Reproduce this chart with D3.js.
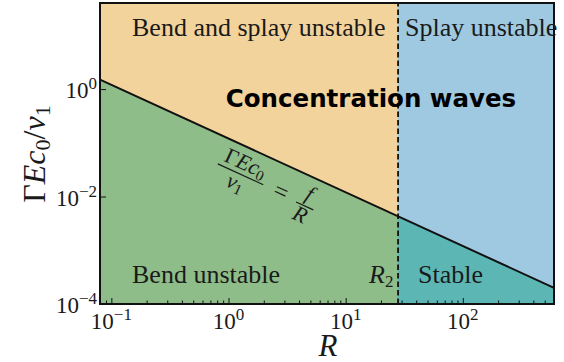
<!DOCTYPE html>
<html>
<head>
<meta charset="utf-8">
<script src="https://cdn.jsdelivr.net/npm/d3@7"></script>
<style>
  html, body { margin: 0; padding: 0; background: #fff; }
  svg { display: block; }
  .serif { font-family: "Liberation Serif", "DejaVu Serif", serif; fill: #1a1a1a; }
</style>
</head>
<body>
<svg id="chart" width="564" height="362"></svg>
<script>
// Stability diagram: threshold line  ΓEc0/v1 = f/R  and critical radius R2
const xDomain = [0.08, 600];        // R
const yDomain = [1e-4, 40];         // ΓEc0/v1
const fCoef = 0.12;                 // f in ΓEc0/v1 = f/R
const R2 = 28;                      // splay threshold radius
const xMajorTicks = [0.1, 1, 10, 100];
const xTickExp = ["−1", "0", "1", "2"];
const yMajorTicks = [1, 1e-2, 1e-4];
const yTickExp = ["0", "−2", "−4"];

const regionNames = ["Bend and splay unstable", "Splay unstable", "Bend unstable", "Stable"];
const regionColors = ["#f3d39c", "#9ec9e1", "#8fbd89", "#5cb7b4"];

const svg = d3.select("#chart");
const margin = { left: 100, right: 10, top: 3, bottom: 58 };
const W = 564, H = 362;

const x = d3.scaleLog().domain(xDomain).range([margin.left, W - margin.right]);
const y = d3.scaleLog().domain(yDomain).range([H - margin.bottom, margin.top]);

const boundary = R => fCoef / R;
const [x0, x1] = xDomain, [y0, y1] = yDomain;

// region polygons in data space
const regions = [
  // above line, R < R2
  [[x0, y1], [R2, y1], [R2, boundary(R2)], [x0, boundary(x0)]],
  // above line, R > R2
  [[R2, y1], [x1, y1], [x1, boundary(x1)], [R2, boundary(R2)]],
  // below line, R < R2
  [[x0, boundary(x0)], [R2, boundary(R2)], [R2, y0], [x0, y0]],
  // below line, R > R2
  [[R2, boundary(R2)], [x1, boundary(x1)], [x1, y0], [R2, y0]]
];

const line = d3.line().x(d => x(d[0])).y(d => y(d[1]));

svg.append("g").selectAll("path")
  .data(regions)
  .join("path")
  .attr("d", d => line(d) + "Z")
  .attr("fill", (d, i) => regionColors[i])
  .attr("stroke", (d, i) => regionColors[i])
  .attr("stroke-width", 0.5);

// threshold line
svg.append("path")
  .attr("d", line([[x0, boundary(x0)], [x1, boundary(x1)]]))
  .attr("stroke", "#111")
  .attr("stroke-width", 2)
  .attr("fill", "none");

// R2 dashed line
svg.append("line")
  .attr("x1", x(R2)).attr("x2", x(R2))
  .attr("y1", y(y0)).attr("y2", y(y1))
  .attr("stroke", "#111")
  .attr("stroke-width", 1.8)
  .attr("stroke-dasharray", "5.5,3");

// axes: ticks drawn inward
const xMinor = [];
for (let e = -2; e <= 2; e++) for (let m = 2; m <= 9; m++) {
  const v = m * Math.pow(10, e);
  if (v >= x0 && v <= x1) xMinor.push(v);
}
const xAxis = d3.axisTop(x).tickValues(xMajorTicks).tickSize(6).tickFormat("");
const xAxisMinor = d3.axisTop(x).tickValues(xMinor).tickSize(3.5).tickFormat("");
const yAxis = d3.axisRight(y).tickValues(yMajorTicks).tickSize(6).tickFormat("");

function styleAxis(g) {
  g.select(".domain").remove();
  g.selectAll(".tick line").attr("stroke", "#111").attr("stroke-width", 1);
}
svg.append("g").attr("transform", `translate(0,${y(y0)})`).call(xAxis).call(styleAxis);
svg.append("g").attr("transform", `translate(0,${y(y0)})`).call(xAxisMinor).call(styleAxis);
svg.append("g").attr("transform", `translate(${x(x0)},0)`).call(yAxis).call(styleAxis);

// tick labels
const xt = svg.append("g").attr("class", "serif").attr("font-size", 23);
xMajorTicks.forEach((v, i) => {
  const t = xt.append("text").attr("x", x(v)).attr("y", 329).attr("text-anchor", "middle");
  t.append("tspan").text("10");
  t.append("tspan").attr("font-size", 17).attr("dy", -9).text(xTickExp[i]);
});
const yt = svg.append("g").attr("class", "serif").attr("font-size", 23);
yMajorTicks.forEach((v, i) => {
  const t = yt.append("text").attr("x", 97).attr("y", y(v) + 9).attr("text-anchor", "end");
  t.append("tspan").text("10");
  t.append("tspan").attr("font-size", 17).attr("dy", -9).text(yTickExp[i]);
});

// frame
svg.append("rect")
  .attr("x", x(x0)).attr("y", y(y1))
  .attr("width", x(x1) - x(x0)).attr("height", y(y0) - y(y1))
  .attr("fill", "none").attr("stroke", "#111").attr("stroke-width", 2);

// axis titles
svg.append("text").attr("class", "serif")
  .attr("x", 328).attr("y", 356).attr("text-anchor", "middle")
  .attr("font-size", 31).attr("font-style", "italic").text("R");

const yl = svg.append("text").attr("class", "serif")
  .attr("transform", "translate(45,154) rotate(-90)")
  .attr("text-anchor", "middle").attr("font-size", 32);
yl.append("tspan").text("Γ");
yl.append("tspan").attr("font-style", "italic").text("Ec");
yl.append("tspan").attr("font-size", 22).attr("dy", 5).text("0");
yl.append("tspan").attr("dy", -5).text("/");
yl.append("tspan").attr("font-style", "italic").text("v");
yl.append("tspan").attr("font-size", 22).attr("dy", 5).text("1");

// region labels
const lab = svg.append("g").attr("class", "serif").attr("font-size", 26);
lab.append("text").attr("x", 132).attr("y", 36).text(regionNames[0]);
lab.append("text").attr("x", 405).attr("y", 36).text(regionNames[1]);
lab.append("text").attr("x", 132).attr("y", 283).text(regionNames[2]);
lab.append("text").attr("x", 418).attr("y", 283).text(regionNames[3]);
const r2 = lab.append("text").attr("x", 369).attr("y", 283);
r2.append("tspan").attr("font-style", "italic").text("R");
r2.append("tspan").attr("font-size", 17).attr("dy", 4).text("2");

svg.append("text")
  .attr("x", 371).attr("y", 107).attr("text-anchor", "middle")
  .attr("font-family", "DejaVu Sans").attr("font-weight", "bold")
  .attr("font-size", 24.5).attr("fill", "#000")
  .text("Concentration waves");

// formula along the threshold line
const ang = Math.atan2(y(boundary(10)) - y(boundary(1)), x(10) - x(1)) * 180 / Math.PI;
const fg = svg.append("g").attr("class", "serif")
  .attr("transform", `translate(272,192) rotate(${ang})`).attr("font-size", 22);
const num = fg.append("text").attr("x", -36).attr("y", -8).attr("text-anchor", "middle");
num.append("tspan").text("Γ");
num.append("tspan").attr("font-style", "italic").text("Ec");
num.append("tspan").attr("font-size", 15).attr("dy", 3).text("0");
fg.append("line").attr("x1", -61).attr("x2", -11).attr("y1", -3).attr("y2", -3)
  .attr("stroke", "#1a1a1a").attr("stroke-width", 1.2);
const den = fg.append("text").attr("x", -37).attr("y", 14).attr("text-anchor", "middle");
den.append("tspan").attr("font-style", "italic").text("v");
den.append("tspan").attr("font-size", 15).attr("dy", 3).text("1");
fg.append("text").attr("x", 8).attr("y", 4).attr("text-anchor", "middle").attr("font-size", 25).text("=");
fg.append("text").attr("x", 35).attr("y", -7).attr("text-anchor", "middle").attr("font-style", "italic").text("f");
fg.append("line").attr("x1", 26).attr("x2", 45).attr("y1", -1).attr("y2", -1)
  .attr("stroke", "#1a1a1a").attr("stroke-width", 1.2);
fg.append("text").attr("x", 35).attr("y", 16).attr("text-anchor", "middle").attr("font-style", "italic").text("R");
</script>
</body>
</html>
